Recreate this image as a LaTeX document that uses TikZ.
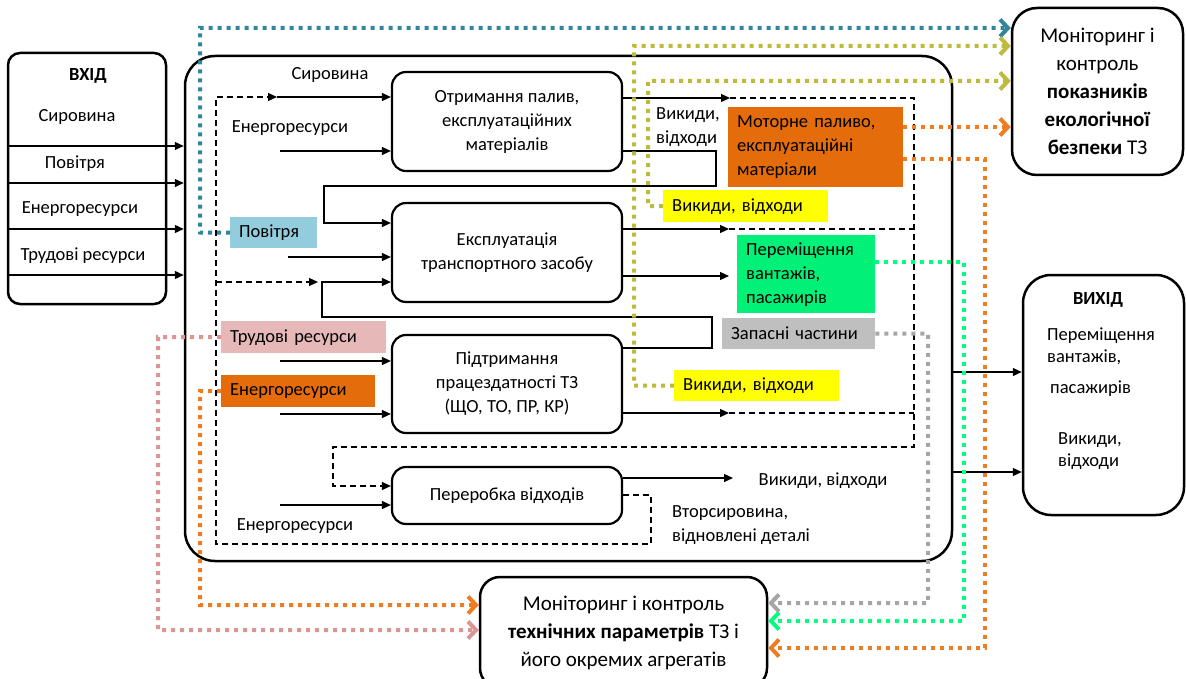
\documentclass[tikz,border=0pt]{standalone}
\usepackage{fontspec}
\setmainfont{Carlito}
\usetikzlibrary{arrows.meta}
\newcommand\fnt{\fontsize{18.5}{24}\selectfont}
\newcommand\fntb{\fontsize{21}{28}\selectfont}
\definecolor{cteal}{HTML}{31859C}
\definecolor{colive}{HTML}{BEBB3C}
\definecolor{corange}{HTML}{E46C0A}
\definecolor{corangel}{HTML}{EE7D22}
\definecolor{cgreen}{HTML}{00F078}
\definecolor{cgreenl}{HTML}{00FF7F}
\definecolor{cgrey}{HTML}{BFBFBF}
\definecolor{cgreyl}{HTML}{A6A6A6}
\definecolor{cpink}{HTML}{E6B9B8}
\definecolor{cpinkl}{HTML}{D99694}
\definecolor{cblue}{HTML}{93CDDD}
\definecolor{cyel}{HTML}{FFFF00}
\begin{document}
\begin{tikzpicture}[x=1pt,y=-1pt,
  every node/.style={font=\fnt, inner sep=0pt},
  proc/.style={draw, line width=2.2pt, rounded corners=14pt, align=center, minimum width=230pt},
  bigbox/.style={draw, line width=2.5pt},
  conn/.style={line width=1.4pt, -{Triangle[length=9pt,width=8pt]}},
  plain/.style={line width=1.4pt},
  dsh/.style={line width=1.3pt, dash pattern=on 6pt off 4pt},
  dsha/.style={dsh, -{Triangle[length=9pt,width=8pt]}},
  dot/.style={line width=4pt, dash pattern=on 4pt off 5pt, -{Straight Barb[length=8pt,width=17pt]}},
  dotn/.style={line width=4pt, dash pattern=on 4pt off 5pt},
  lbox/.style={anchor=north west, inner xsep=9pt, inner ysep=0pt, align=left}
]
\fill[white] (0,0) rectangle (1186,679);
\useasboundingbox (0,0) rectangle (1186,679);

% main frames
\node[bigbox, rounded corners=30pt, minimum width=767pt, minimum height=505pt] (main) at (568.5,308.5) {};
\node[bigbox, rounded corners=12pt, minimum width=158pt, minimum height=251pt] (in) at (87,178.5) {};
\node[bigbox, rounded corners=28pt, minimum width=161pt, minimum height=240pt] (out) at (1103.5,395) {};
\node[bigbox, rounded corners=25pt, minimum width=171pt, minimum height=167pt, align=center, font=\fntb] (mon1) at (1097.5,91.5)
  {Моніторинг і\\контроль\\\textbf{показників}\\\textbf{екологічної}\\\textbf{безпеки} ТЗ};
\node[bigbox, rounded corners=20pt, minimum width=287pt, minimum height=111pt, align=center, font=\fntb] (mon2) at (623.5,632.5)
  {Моніторинг і контроль\\\textbf{технічних параметрів} ТЗ і\\його окремих агрегатів};

% input texts
\node (tin) at (88,76) {\textbf{ВХІД}};
\node (i1) at (77,117) {Сировина};
\node (i2) at (75,164) {Повітря};
\node (i3) at (80,209) {Енергоресурси};
\node (i4) at (83,256) {Трудові ресурси};

% output texts
\node (tout) at (1098,300) {\textbf{ВИХІД}};
\node[anchor=west, align=left, font=\fontsize{18.5}{22}\selectfont] (o1) at (1047,346) {Переміщення\\вантажів,};
\node[anchor=west] (o2) at (1050,389) {пасажирів};
\node[anchor=west, align=left, font=\fontsize{18.5}{22}\selectfont] (o3) at (1058,451) {Викиди,\\відходи};

% process boxes
\node[proc, minimum height=99pt] (b1) at (507,121.5) {Отримання палив,\\експлуатаційних\\матеріалів};
\node[proc, minimum height=99pt] (b2) at (507,252.5) {Експлуатація\\транспортного засобу};
\node[proc, minimum height=98pt] (b3) at (507,384) {Підтримання\\працездатності ТЗ\\(ЩО, ТО, ПР, КР)};
\node[proc, minimum height=57pt] (b5) at (507,495.5) {Переробка відходів};

% plain labels
\node (l1) at (330,75) {Сировина};
\node (l2) at (290,128) {Енергоресурси};
\node (l3) at (295,526) {Енергоресурси};
\node[anchor=west, align=left] (l4) at (656,127) {Викиди,\\відходи};
\node (l5) at (823,481) {Викиди, відходи};
\node[anchor=west, align=left] (l6) at (672,525) {Вторсировина,\\відновлені деталі};

% input arrows
\foreach \yy in {146,183,229,275} \draw[conn] (in.west |- 0,\yy) -- (main.west |- 0,\yy);
% output arrows
\draw[conn] (main.east |- 0,372) -- (out.west |- 0,372);
\draw[conn] (main.east |- 0,472) -- (out.west |- 0,472);

% dashed recycle loop (secondary raw materials)
\draw[dsha] (b5.east |- 0,495) -- (651,495) -- (651,544) -- (216,544) -- (216,97) -- (277,97);
\draw[conn] (277,97) -- (b1.west |- 0,97);
\draw[dsha] (216,282) -- (318,282);

% box 1
\draw[conn] (280,151) -- (b1.west |- 0,151);
\draw[conn] (b1.east |- 0,98) -- (730,98);
\draw[dsha] (730,98) -- (914,98) -- (914,447) -- (333,447) -- (333,486) -- (b5.west |- 0,486);
\draw[conn] (b1.east |- 0,151) -- (716,151) -- (716,186) -- (324,186) -- (324,223) -- (b2.west |- 0,223);
% box 2
\draw[conn] (288,257) -- (b2.west |- 0,257);
\draw[conn] (b3.east |- 0,348) -- (712,348) -- (712,317) -- (322,317) -- (322,282) -- (b2.west |- 0,282);
\draw[conn] (b2.east |- 0,229) -- (729,229);
\draw[dsh] (729,229) -- (914,229);
\draw[conn] (b2.east |- 0,276) -- (729,276);
% box 3
\draw[conn] (280,361) -- (b3.west |- 0,361);
\draw[conn] (280,414) -- (b3.west |- 0,414);
\draw[conn] (b3.east |- 0,413) -- (729,413);
\draw[dsh] (729,413) -- (914,413);
% box 5
\draw[conn] (280,505) -- (b5.west |- 0,505);
\draw[conn] (b5.east |- 0,478) -- (733,478);

% coloured label boxes
\node[lbox, fill=cblue, text width=69pt, minimum height=31pt] (pov) at (230,217) {Повітря};
\node[lbox, fill=cpink, text width=147pt, minimum height=32pt] (pnk) at (221,321) {Трудові ресурси};
\node[lbox, fill=corange, text width=136pt, minimum height=32pt] (en) at (221,375) {Енергоресурси};
\node[lbox, fill=corange, text width=157pt, minimum height=80pt] (mot) at (728,107) {Моторне паливо,\\експлуатаційні\\матеріали};
\node[lbox, fill=cyel, text width=147pt, minimum height=32pt] (vy1) at (663,190) {Викиди, відходи};
\node[lbox, fill=cgreen, text width=120pt, minimum height=78pt] (grn) at (737,235) {Переміщення\\вантажів,\\пасажирів};
\node[lbox, fill=cgrey, text width=135pt, minimum height=31pt] (gry) at (722,318) {Запасні частини};
\node[lbox, fill=cyel, text width=147pt, minimum height=31pt] (vy2) at (674,370) {Викиди, відходи};

% coloured dotted monitoring links
\draw[dot, cteal] (pov.west) -- (200,232.5) -- (200,28) -- (mon1.west |- 0,28);
\draw[dot, colive] (vy2.west) -- (634,385.5) -- (634,46) -- (mon1.west |- 0,46);
\draw[dot, colive] (vy1.west) -- (648,206) -- (648,81) -- (mon1.west |- 0,81);
\draw[dot, corangel] (mot.east |- 0,127) -- (mon1.west |- 0,127);
\draw[dot, corangel] (mot.east |- 0,159) -- (985,159) -- (985,648) -- (mon2.east |- 0,648);
\draw[dot, cgreenl] (grn.east |- 0,262) -- (964,262) -- (964,621) -- (mon2.east |- 0,621);
\draw[dot, cgreyl] (gry.east) -- (928,333.5) -- (928,603) -- (mon2.east |- 0,603);
\draw[dot, cpinkl] (pnk.west) -- (158,337) -- (158,630) -- (mon2.west |- 0,630);
\draw[dot, corangel] (en.west) -- (200,391) -- (200,605) -- (mon2.west |- 0,605);
\end{tikzpicture}
\end{document}
